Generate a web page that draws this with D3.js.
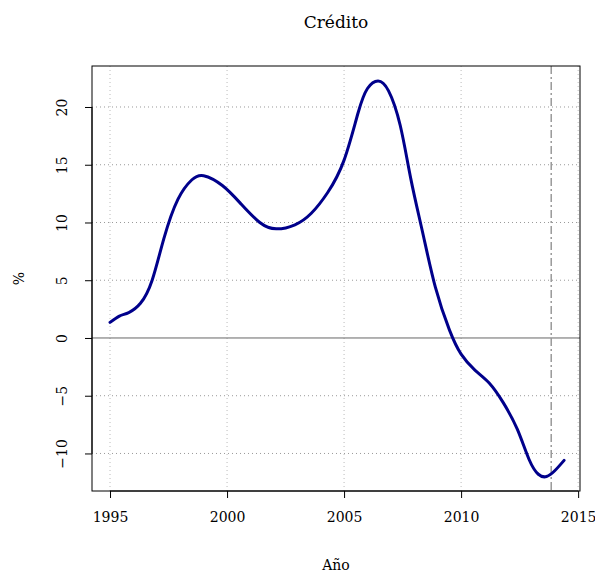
<!DOCTYPE html>
<html>
<head>
<meta charset="utf-8">
<script src="https://cdn.jsdelivr.net/npm/d3@7"></script>
<style>
  body { margin: 0; background: #fff; }
  text { font-family: "DejaVu Serif", serif; fill: #000; }
</style>
</head>
<body>
<svg id="chart" width="595" height="574"></svg>
<script>
// --- Data ---
const years = [1995.0, 1995.4, 1995.8, 1996.3, 1996.8, 1997.3, 1997.9, 1998.5, 1999.0, 1999.8, 2000.6, 2001.4,
  2002.1, 2002.9, 2003.6, 2004.3, 2005.0, 2005.6, 2006.0, 2006.45, 2006.9, 2007.4,
  2007.85, 2008.35, 2008.9, 2009.5, 2010.0, 2010.6, 2011.2, 2011.8, 2012.4, 2012.9,
  2013.3, 2013.65, 2014.0, 2014.4];
const credito = [1.35, 1.9, 2.2, 3.0, 5.0, 8.6, 12.0, 13.7, 14.05, 13.2, 11.6, 10.0,
  9.45, 9.8, 10.8, 12.6, 15.4, 19.5, 21.6, 22.25, 21.4, 18.4,
  13.8, 9.2, 4.4, 0.7, -1.4, -2.8, -3.9, -5.6, -7.9, -10.5,
  -11.8, -12.0, -11.5, -10.6];
const xTicks = [1995, 2000, 2005, 2010, 2015];
const yTicks = [-10, -5, 0, 5, 10, 15, 20];
const marker = 2013.85;
const title = "Crédito";
const xLabel = "Año";
const yLabel = "%";

// --- Plot sizing ---
const margin = { top: 66, right: 15, bottom: 83, left: 92 };
const width = 595 - margin.left - margin.right;
const height = 574 - margin.top - margin.bottom;

const svg = d3.select("#chart");
const g = svg.append("g").attr("transform", `translate(${margin.left},${margin.top})`);

const x = d3.scaleLinear().domain([1994.23, 2015.08]).range([0, width]);
const y = d3.scaleLinear().domain([-13.25, 23.55]).range([height, 0]);

// grid
g.selectAll(".vgrid").data(xTicks).enter().append("line")
  .attr("x1", d => x(d)).attr("x2", d => x(d))
  .attr("y1", 0).attr("y2", height)
  .attr("stroke", "#bbb").attr("stroke-dasharray", "1,3");
g.selectAll(".hgrid").data(yTicks.filter(d => d !== 0)).enter().append("line")
  .attr("x1", 0).attr("x2", width)
  .attr("y1", d => y(d)).attr("y2", d => y(d))
  .attr("stroke", "#999").attr("stroke-dasharray", "1,3");

// zero line
g.append("line")
  .attr("x1", 0).attr("x2", width)
  .attr("y1", y(0)).attr("y2", y(0))
  .attr("stroke", "#666").attr("stroke-width", 1);

// vertical marker
g.append("line")
  .attr("x1", x(marker)).attr("x2", x(marker))
  .attr("y1", 0).attr("y2", height)
  .attr("stroke", "#999").attr("stroke-width", 1.5)
  .attr("stroke-dasharray", "8,3,2,3");

// series
const line = d3.line()
  .x((d, i) => x(years[i]))
  .y(d => y(d))
  .curve(d3.curveNatural);
g.append("path")
  .datum(credito)
  .attr("d", line)
  .attr("fill", "none")
  .attr("stroke", "#00008B")
  .attr("stroke-width", 3)
  .attr("stroke-linecap", "round");

// box
g.append("rect")
  .attr("width", width).attr("height", height)
  .attr("fill", "none").attr("stroke", "#000").attr("stroke-width", 1);

// axes
const xAxis = g.append("g")
  .attr("transform", `translate(0,${height})`)
  .call(d3.axisBottom(x).tickValues(xTicks).tickFormat(d3.format("d")).tickSize(7).tickPadding(14));
const yAxis = g.append("g")
  .call(d3.axisLeft(y).tickValues(yTicks).tickFormat(d => d < 0 ? "\u2212" + Math.abs(d) : d).tickSize(7));

[xAxis, yAxis].forEach(a => {
  a.select(".domain").remove();
  a.selectAll("text").style("font-family", "DejaVu Serif, serif").style("font-size", "14px").attr("fill", "#000");
});
xAxis.append("line").attr("x1", x(1995)).attr("x2", x(2015)).attr("stroke", "#000");
yAxis.append("line").attr("y1", y(-10)).attr("y2", y(20)).attr("stroke", "#000");

yAxis.selectAll(".tick text")
  .attr("x", 0).attr("dy", null)
  .attr("text-anchor", "middle")
  .attr("dominant-baseline", "central")
  .attr("transform", "translate(-30,0) rotate(-90)");

// labels
svg.append("text")
  .attr("x", margin.left + width / 2).attr("y", 28)
  .attr("text-anchor", "middle")
  .style("font-size", "17px")
  .text(title);
svg.append("text")
  .attr("x", margin.left + width / 2).attr("y", 570)
  .attr("text-anchor", "middle")
  .style("font-size", "14px")
  .text(xLabel);
svg.append("text")
  .attr("transform", `translate(24,${margin.top + height / 2}) rotate(-90)`)
  .attr("text-anchor", "middle")
  .style("font-size", "14px")
  .text(yLabel);
</script>
</body>
</html>
